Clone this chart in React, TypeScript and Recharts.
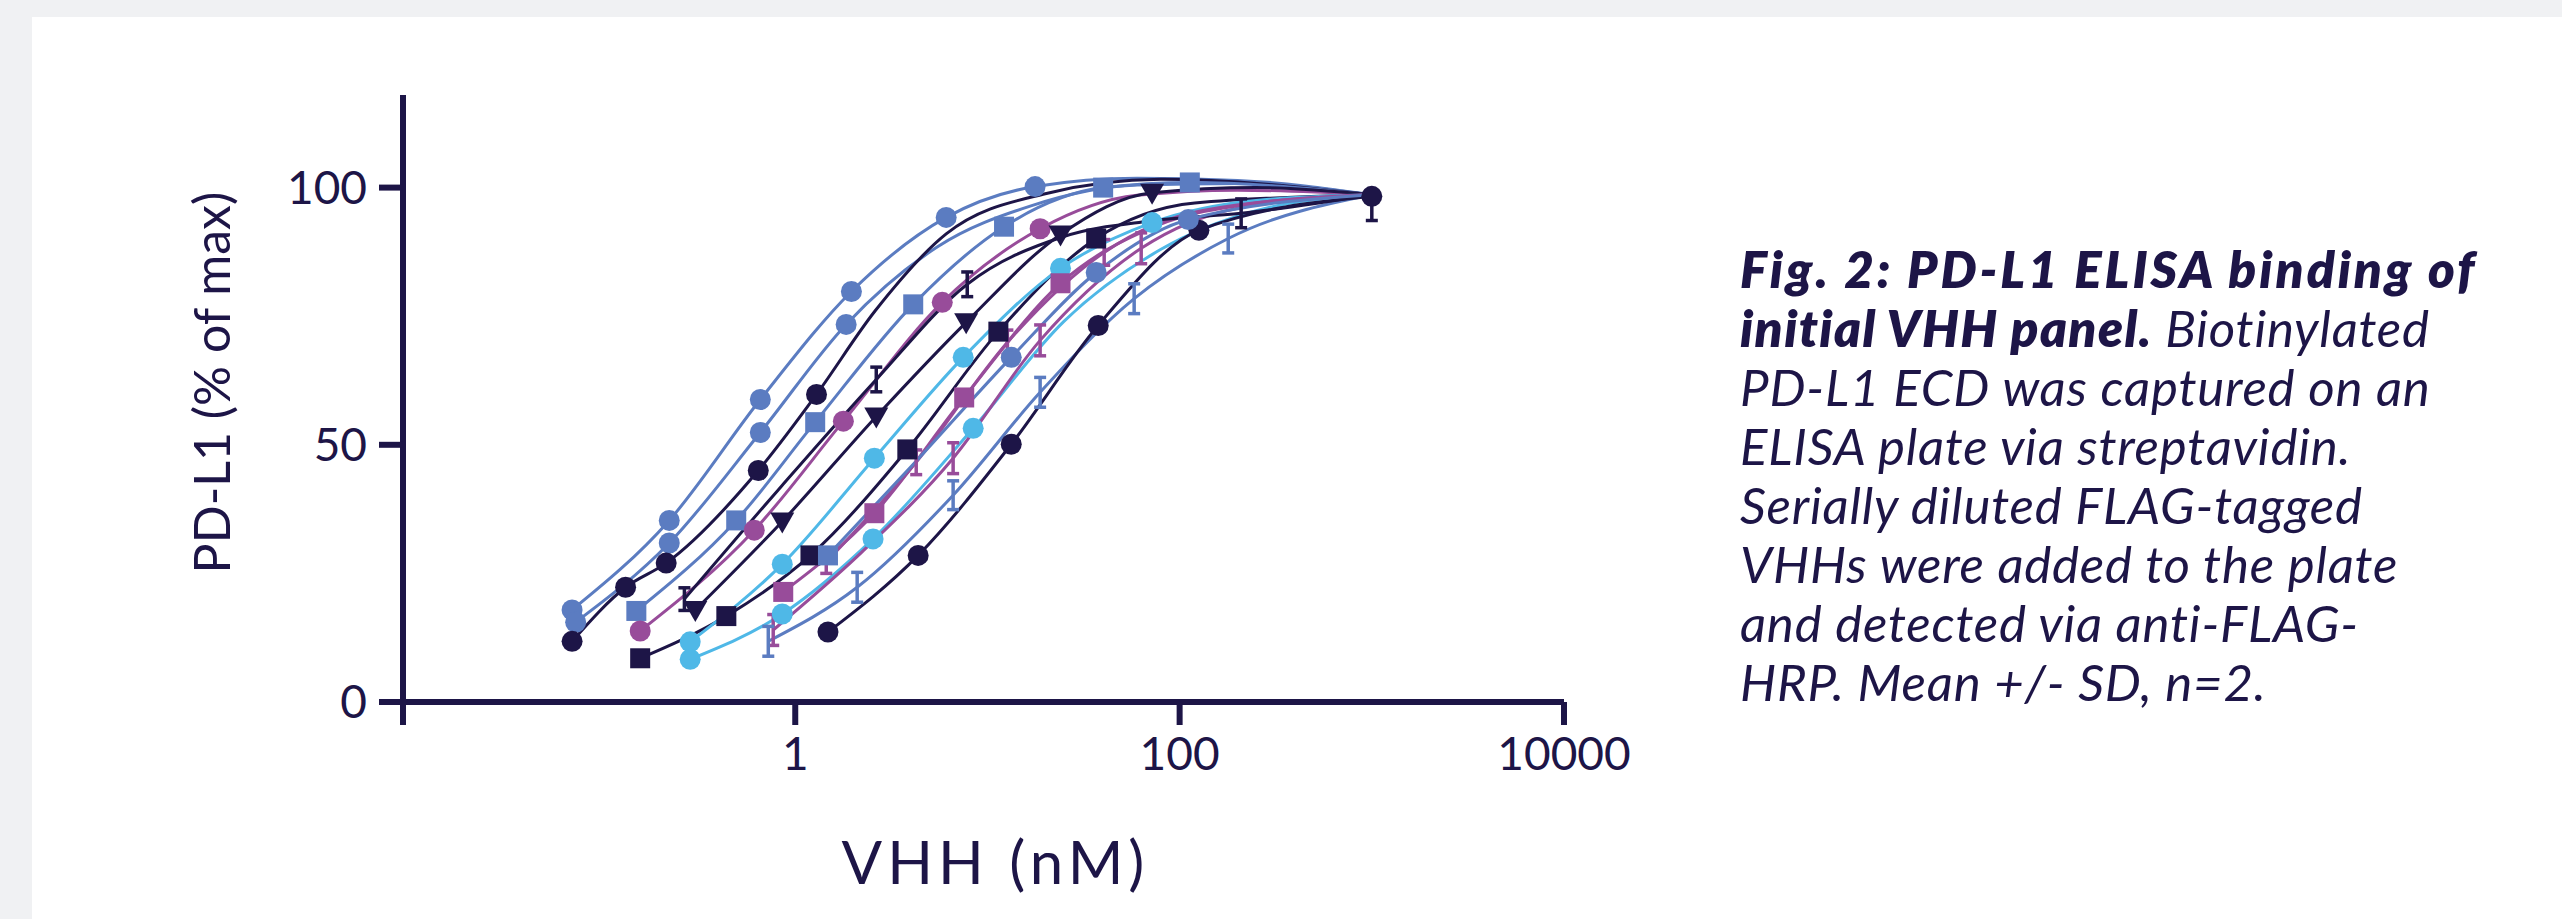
import React from 'react';
import { ComposedChart, Line, Scatter, XAxis, YAxis, ErrorBar } from 'recharts';

const NAVY = '#1d1547';
const BLUE = '#5b7cc1';
const CYAN = '#4fb8e7';
const PURPLE = '#984c9a';

type Pt = { x: number; y: number; e?: number | number[] };

// x tick values (nM) and their labels
const X_TICKS = [0.0091, 1, 100, 10000];
const X_TICK_LABELS = ['', '1', '100', '10000'];
const Y_TICKS = [0, 50, 100];

// all fitted curves run out to the top concentration
const CURVE_END: Pt = { x: 1000, y: 98.6 };

// --- marker points (mean) and extra points ---
const blueCircleA: Pt[] = [
  { x: 0.069, y: 17.9 }, { x: 0.221, y: 35.3 }, { x: 0.658, y: 58.8 },
  { x: 1.96, y: 79.8 }, { x: 6.1, y: 94.2 }, { x: 17.7, y: 100.2 },
];
const blueCircleACurve: Pt[] = [{ x: 60, y: 101.8 }, { x: 200, y: 101.4 }];

const blueCircleB: Pt[] = [
  { x: 0.072, y: 15.5 }, { x: 0.221, y: 30.9 }, { x: 0.658, y: 52.4 }, { x: 1.84, y: 73.4 },
];
const blueCircleBCurve: Pt[] = [{ x: 5.5, y: 88.5 }, { x: 17, y: 96.5 }, { x: 60, y: 100.5 }, { x: 200, y: 100.8 }];

const navyCircleA: Pt[] = [
  { x: 0.069, y: 11.8 }, { x: 0.131, y: 22.3 }, { x: 0.213, y: 27.0 },
  { x: 0.642, y: 45.0 }, { x: 1.29, y: 59.8 },
];
const navyCircleACurve: Pt[] = [{ x: 2.6, y: 76 }, { x: 6.1, y: 91 }, { x: 20, y: 98.8 }, { x: 80, y: 101.6 }];

const blueSquare: Pt[] = [
  { x: 0.149, y: 17.7 }, { x: 0.493, y: 35.3 }, { x: 1.27, y: 54.4 }, { x: 4.11, y: 77.3 },
  { x: 12.2, y: 92.4 }, { x: 40, y: 100 }, { x: 113, y: 101 },
];
const blueSquareCurve: Pt[] = [];

const purpleCircle: Pt[] = [
  { x: 0.156, y: 13.8 }, { x: 0.612, y: 33.4 }, { x: 1.78, y: 54.6 },
  { x: 5.82, y: 77.7 }, { x: 18.8, y: 92.0 },
];
const purpleCircleCurve: Pt[] = [{ x: 60, y: 98.5 }, { x: 200, y: 99.5 }];

const navySquare: Pt[] = [
  { x: 0.156, y: 8.5 }, { x: 0.438, y: 16.7 }, { x: 1.2, y: 28.5 }, { x: 3.83, y: 49.1 },
  { x: 11.4, y: 72.0 }, { x: 36.8, y: 90.1 },
];
const navySquareCurve: Pt[] = [{ x: 120, y: 97 }];

const navyTriangle: Pt[] = [
  { x: 0.302, y: 17.9 }, { x: 0.856, y: 35.1 }, { x: 2.64, y: 55.5 }, { x: 7.75, y: 73.8 },
  { x: 24, y: 90.9 }, { x: 71.9, y: 99.0 },
];
const navyTriangleCurve: Pt[] = [{ x: 250, y: 100 }];

const cyanCircleA: Pt[] = [
  { x: 0.284, y: 11.7 }, { x: 0.856, y: 26.8 }, { x: 2.58, y: 47.4 }, { x: 7.48, y: 67.0 },
  { x: 24, y: 84.3 }, { x: 71.9, y: 93.2 },
];
const cyanCircleACurve: Pt[] = [{ x: 250, y: 97.5 }];

const cyanCircleB: Pt[] = [
  { x: 0.284, y: 8.3 }, { x: 0.856, y: 17.1 }, { x: 2.54, y: 31.7 }, { x: 8.43, y: 53.2 },
];
const cyanCircleBCurve: Pt[] = [{ x: 25, y: 74 }, { x: 80, y: 88 }, { x: 250, y: 95.5 }];

const purpleSquare: Pt[] = [
  { x: 0.866, y: 21.4 }, { x: 2.58, y: 36.7 }, { x: 7.57, y: 59.2 }, { x: 24, y: 81.4 },
];
const purpleSquareCurve: Pt[] = [{ x: 75, y: 92.5 }, { x: 250, y: 97 }];

const purpleBarA: Pt[] = [
  { x: 0.768, y: 14.0, e: 3 }, { x: 6.63, y: 47.4, e: 3 }, { x: 18.8, y: 70.3, e: 3 }, { x: 63.1, y: 88.2, e: 3 },
];
const purpleBarACurve: Pt[] = [{ x: 2.2, y: 29 }, { x: 200, y: 96 }];

const purpleBarB: Pt[] = [
  { x: 1.45, y: 27.2, e: 2.2 }, { x: 4.26, y: 46.6, e: 2.4 }, { x: 12.7, y: 69.9, e: 2.4 }, { x: 40.5, y: 87.4, e: 2.5 },
];
const purpleBarBCurve: Pt[] = [{ x: 130, y: 95.5 }];

const blueBar: Pt[] = [
  { x: 0.724, y: 11.8, e: 2.9 }, { x: 2.1, y: 22.3, e: 2.9 }, { x: 6.63, y: 40.2, e: 2.8 },
  { x: 18.8, y: 60.2, e: 2.9 }, { x: 58, y: 78.4, e: 2.9 }, { x: 179, y: 90.1, e: 2.8 },
];
const blueBarCurve: Pt[] = [];

const navyBar: Pt[] = [
  { x: 0.265, y: 20.0, e: 2.2 }, { x: 2.64, y: 62.7, e: 2.4 }, { x: 7.85, y: 81.2, e: 2.4 }, { x: 209, y: 95.0, e: 2.8 },
];
const navyBarCurve: Pt[] = [{ x: 0.85, y: 42 }, { x: 25, y: 90.5 }, { x: 70, y: 93.5 }];

const navyCircleB: Pt[] = [
  { x: 1.48, y: 13.6, e: 0 }, { x: 4.36, y: 28.5, e: 0 }, { x: 13.3, y: 50.1, e: 0 },
  { x: 37.7, y: 73.2, e: 0 }, { x: 126, y: 91.7, e: 0 }, { x: 1000, y: 98.3, e: [4.7, 0] },
];
const navyCircleBCurve: Pt[] = [];

const blueCircleC: Pt[] = [{ x: 13.3, y: 67.0 }, { x: 36.8, y: 83.5 }, { x: 111, y: 93.8 }];
const blueCircleCCurve: Pt[] = [{ x: 1.48, y: 28.5 }, { x: 4.3, y: 47 }];

const blueSquareB: Pt[] = [{ x: 1.48, y: 28.5 }];

type Series = { key: string; color: string; shape: string; pts: Pt[]; curve: Pt[] | null };

const SERIES: Series[] = [
  { key: 'bcA', color: BLUE, shape: 'circle', pts: blueCircleA, curve: blueCircleACurve },
  { key: 'bcB', color: BLUE, shape: 'circle', pts: blueCircleB, curve: blueCircleBCurve },
  { key: 'ncA', color: NAVY, shape: 'circle', pts: navyCircleA, curve: navyCircleACurve },
  { key: 'bs', color: BLUE, shape: 'square', pts: blueSquare, curve: blueSquareCurve },
  { key: 'pc', color: PURPLE, shape: 'circle', pts: purpleCircle, curve: purpleCircleCurve },
  { key: 'ns', color: NAVY, shape: 'square', pts: navySquare, curve: navySquareCurve },
  { key: 'nt', color: NAVY, shape: 'triangle', pts: navyTriangle, curve: navyTriangleCurve },
  { key: 'ccA', color: CYAN, shape: 'circle', pts: cyanCircleA, curve: cyanCircleACurve },
  { key: 'ccB', color: CYAN, shape: 'circle', pts: cyanCircleB, curve: cyanCircleBCurve },
  { key: 'ps', color: PURPLE, shape: 'square', pts: purpleSquare, curve: purpleSquareCurve },
  { key: 'pbA', color: PURPLE, shape: 'none', pts: purpleBarA, curve: purpleBarACurve },
  { key: 'pbB', color: PURPLE, shape: 'none', pts: purpleBarB, curve: purpleBarBCurve },
  { key: 'bb', color: BLUE, shape: 'none', pts: blueBar, curve: blueBarCurve },
  { key: 'nb', color: NAVY, shape: 'none', pts: navyBar, curve: navyBarCurve },
  { key: 'ncB', color: NAVY, shape: 'circle', pts: navyCircleB, curve: navyCircleBCurve },
  { key: 'bcC', color: BLUE, shape: 'circle', pts: blueCircleC, curve: blueCircleCCurve },
  { key: 'bsB', color: BLUE, shape: 'square', pts: blueSquareB, curve: null },
];

const curveData = (s: Series): Pt[] => {
  if (!s.curve) return [];
  const all = [...s.pts, ...s.curve].map((p) => ({ x: p.x, y: p.y }));
  if (!all.some((p) => p.x === CURVE_END.x)) all.push({ ...CURVE_END });
  return all.sort((a, b) => a.x - b.x);
};

const makeShape = (kind: string, color: string) => (props: any) => {
  const { cx, cy } = props;
  if (cx == null || cy == null || kind === 'none') return <g />;
  if (kind === 'circle') return <circle cx={cx} cy={cy} r={10.5} fill={color} />;
  if (kind === 'square') return <rect x={cx - 10} y={cy - 10} width={20} height={20} fill={color} />;
  if (kind === 'triangle')
    return <polygon points={`${cx - 12},${cy - 9} ${cx + 12},${cy - 9} ${cx},${cy + 12}`} fill={color} />;
  return <g />;
};

const FONT = 'Lato, "Noto Sans", sans-serif';

const YTitle = (props: any) => {
  const { x, y, width, height } = props.viewBox;
  const cx = x + width - 192;
  const cy = y + height / 2 - 16;
  return (
    <text x={cx} y={cy} transform={`rotate(-90 ${cx} ${cy})`} textAnchor="middle" dominantBaseline="central"
      fontFamily={FONT} fontSize={50} fill={NAVY}>
      PD-L1 (% of max)
    </text>
  );
};

const XTitle = (props: any) => {
  const { x, y, width } = props.viewBox;
  return (
    <text x={x + width / 2 + 12} y={y + 182} textAnchor="middle" fontFamily={FONT} fontSize={60}
      letterSpacing={5} fill={NAVY}>
      VHH (nM)
    </text>
  );
};

const CAPTION_BOLD = ['Fig. 2: PD-L1 ELISA binding of', 'initial VHH panel.'];
const CAPTION_LINES = [
  ' Biotinylated',
  'PD-L1 ECD was captured on an',
  'ELISA plate via streptavidin.',
  'Serially diluted FLAG-tagged',
  'VHHs were added to the plate',
  'and detected via anti-FLAG-',
  'HRP. Mean +/- SD, n=2.',
];

export default function App() {
  return (
    <div style={{ position: 'absolute', left: 0, top: 0, width: 2562, height: 919, background: '#f0f1f3', overflow: 'hidden' }}>
      <div style={{ position: 'absolute', left: 32, top: 17, right: 0, bottom: 0, background: '#ffffff' }} />
      <div style={{ position: 'absolute', left: 0, top: 0 }}>
        <ComposedChart width={1700} height={919} margin={{ top: 95, right: 136, bottom: 157, left: 303 }}>
          <XAxis
            dataKey="x"
            type="number"
            scale="log"
            domain={[X_TICKS[0], 10000]}
            allowDataOverflow
            ticks={X_TICKS}
            tickFormatter={(v: number) => X_TICK_LABELS[X_TICKS.indexOf(v)] ?? ''}
            height={60}
            tickSize={23}
            tickMargin={12}
            axisLine={{ stroke: NAVY, strokeWidth: 6 }}
            tickLine={{ stroke: NAVY, strokeWidth: 6 }}
            tick={{ fill: NAVY, fontSize: 46, fontFamily: FONT }}
            label={<XTitle />}
          />
          <YAxis
            dataKey="y"
            type="number"
            domain={[0, 118]}
            allowDataOverflow
            ticks={Y_TICKS}
            width={100}
            tickSize={24}
            tickMargin={12}
            axisLine={{ stroke: NAVY, strokeWidth: 6 }}
            tickLine={{ stroke: NAVY, strokeWidth: 6 }}
            tick={{ fill: NAVY, fontSize: 46, fontFamily: FONT }}
            label={<YTitle />}
          />
          {SERIES.filter((s) => s.curve).map((s) => (
            <Line
              key={'l' + s.key}
              data={curveData(s)}
              dataKey="y"
              type="monotone"
              stroke={s.color}
              strokeWidth={3}
              dot={false}
              activeDot={false}
              isAnimationActive={false}
            />
          ))}
          {SERIES.map((s) => (
            <Scatter
              key={'s' + s.key}
              data={s.pts}
              dataKey="y"
              shape={makeShape(s.shape, s.color)}
              isAnimationActive={false}
            >
              {s.pts.some((p) => p.e !== undefined) && (
                <ErrorBar dataKey="e" direction="y" width={6} stroke={s.color} strokeWidth={3.5} />
              )}
            </Scatter>
          ))}
        </ComposedChart>
      </div>
      <div
        style={{
          position: 'absolute', left: 1740, top: 239, fontFamily: FONT, fontStyle: 'italic', fontSize: 51,
          lineHeight: '59px', letterSpacing: 0.8, color: NAVY, whiteSpace: 'nowrap',
        }}
      >
        <div style={{ fontWeight: 800, letterSpacing: 3 }}>{CAPTION_BOLD[0]}</div>
        <div>
          <span style={{ fontWeight: 800, letterSpacing: 1.4 }}>{CAPTION_BOLD[1]}</span>
          {CAPTION_LINES[0]}
        </div>
        {CAPTION_LINES.slice(1).map((t) => (
          <div key={t}>{t}</div>
        ))}
      </div>
    </div>
  );
}
